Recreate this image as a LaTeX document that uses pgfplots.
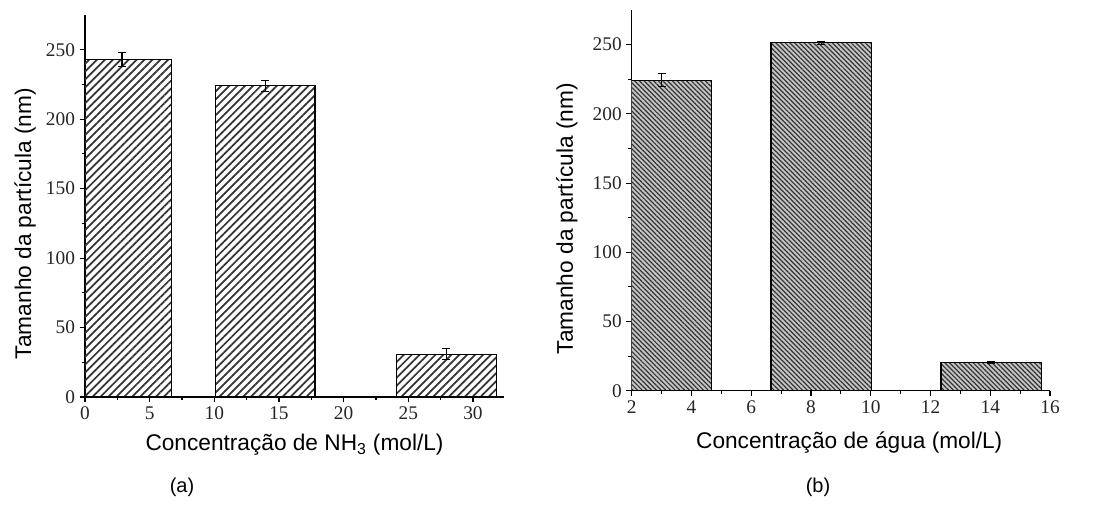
\documentclass[border=0pt]{standalone}
\usepackage{pgfplots}
\pgfplotsset{compat=1.18}
\usepackage{fontspec}
\setmainfont{Liberation Serif}
\newfontfamily\sansf{Liberation Sans}
\usetikzlibrary{patterns.meta}
\begin{document}
\begin{tikzpicture}
\useasboundingbox (0,0) rectangle (820.5pt,-390.75pt);
\pgfplotsset{
  myaxis/.style={
    scale only axis,
    axis lines*=left,
    axis line style={black, line width=0.9pt},
    tick align=outside,
    tick style={black, line width=0.8pt},
    major tick length=4pt,
    minor tick length=2.5pt,
    minor x tick num=1,
    minor y tick num=1,
    ymin=0, ymax=275,
    ytick={0,50,...,250},
    /pgf/number format/assume math mode=true,
    ticklabel style={font=\fontsize{14.5}{14.5}\selectfont, text=black!85},
    label style={font=\sansf\fontsize{17}{17}\selectfont},
    ybar,
    error bars/y dir=both,
    error bars/y explicit,
    error bars/error bar style={black, line width=0.8pt},
    error bars/error mark options={rotate=90, mark size=3pt, line width=0.8pt, black},
  }
}
\begin{axis}[myaxis,
  at={(63.75pt,-297.75pt)}, anchor=south west,
  width=314.25pt, height=286.5pt,
  xmin=0, xmax=32.4,
  xtick={0,5,...,30},
  bar width=7.7,
  xlabel={Concentração de NH\textsubscript{3} (mol/L)},
  ylabel={Tamanho da partícula (nm)},
  ylabel style={at={(axis description cs:-0.143,0.454)}, anchor=center},
  xlabel style={at={(axis description cs:0.5,-0.126)}, anchor=center},
]
\addplot[draw=black, line width=0.9pt,
  pattern={Lines[angle=45,distance=4.2pt,line width=1.3pt]}, pattern color=black!80]
  coordinates {(2.86,243) +- (0,5) (13.93,224) +- (0,4) (27.95,30.8) +- (0,4)};
\end{axis}
\begin{axis}[myaxis,
  at={(473.8pt,-293.0pt)}, anchor=south west,
  width=313.7pt, height=285.5pt,
  xmin=2, xmax=16,
  xtick={2,4,...,16},
  bar width=3.36,
  xlabel={Concentração de água (mol/L)},
  ylabel={Tamanho da partícula (nm)},
  ylabel style={at={(axis description cs:-0.155,0.452)}, anchor=center},
  xlabel style={at={(axis description cs:0.52,-0.137)}, anchor=center},
]
\addplot[draw=black, line width=0.9pt, fill=gray!45,
  postaction={pattern={Lines[angle=-45,distance=2.5pt,line width=0.9pt]}, pattern color=black!80}]
  coordinates {(3.0,224.3) +- (0,4.5) (8.34,251.3) +- (0,1) (14.03,20.5) +- (0,0.6)};
\end{axis}
\node[font=\sansf\fontsize{15}{15}\selectfont] at (136.5pt,-365.25pt) {(a)};
\node[font=\sansf\fontsize{15}{15}\selectfont] at (613.5pt,-365.25pt) {(b)};
\end{tikzpicture}
\end{document}
